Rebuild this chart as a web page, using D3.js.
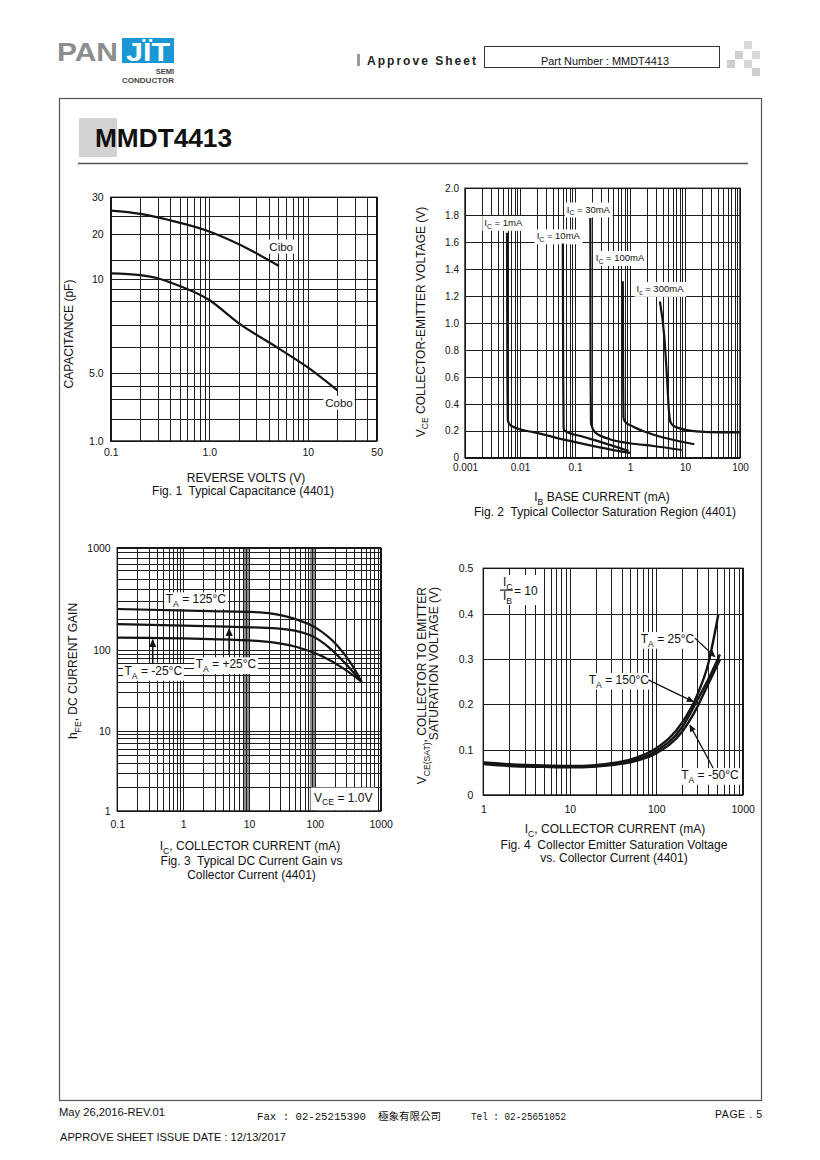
<!DOCTYPE html>
<html><head><meta charset="utf-8">
<script src="https://cdn.jsdelivr.net/npm/d3@7"></script>
<style>
body{margin:0;background:#fff}
svg{display:block}
text{font-family:"Liberation Sans",Arial,sans-serif;fill:#111;white-space:pre}
</style>
</head><body>
<svg id="page" width="820" height="1160"></svg>
<script>
// ---------------- Fig. 1 : Typical Capacitance ----------------
const fig1VoltTicks = [0.1, 1, 10, 50];
const fig1VoltLabels = ['0.1', '1.0', '10', '50'];
const fig1CapTicks = [1, 5, 10, 20, 30];
const fig1CapLabels = ['1.0', '5.0', '10', '20', '30'];
const fig1CapGrid = [30, 24.3, 20, 13.4, 10, 9.27, 8.47, 7.1, 6.03, 5, 3.68, 2.71, 1.67, 1];
const ciboVolts = [0.1, 0.2, 0.4, 1, 2, 5.1];
const ciboPF    = [25.9, 25, 23.3, 20.6, 17.1, 12.2];
const coboVolts = [0.1, 0.2, 0.3, 0.4, 1, 2, 5, 10, 20];
const coboPF    = [10.9, 10.6, 10.1, 9.75, 8.56, 7.2, 6.0, 5.2, 3.3];

// ---------------- Fig. 2 : Collector Saturation Region ----------------
const fig2IbTicks = [0.001, 0.01, 0.1, 1, 10, 100];
const fig2IbLabels = ['0.001', '0.01', '0.1', '1', '10', '100'];
const fig2VceTicks = [0, 0.2, 0.4, 0.6, 0.8, 1.0, 1.2, 1.4, 1.6, 1.8, 2.0];
const fig2VceLabels = ['0', '0.2', '0.4', '0.6', '0.8', '1.0', '1.2', '1.4', '1.6', '1.8', '2.0'];
const ib1mA   = [0.0058, 0.0059, 0.006, 0.0064, 0.0075, 0.01, 0.0175, 0.07, 0.28, 1.0];
const vce1mA  = [1.67, 0.6, 0.28, 0.25, 0.23, 0.21, 0.19, 0.13, 0.077, 0.035];
const ib10mA  = [0.06, 0.061, 0.062, 0.065, 0.14, 0.28, 0.94];
const vce10mA = [1.59, 0.6, 0.22, 0.2, 0.156, 0.119, 0.05];
const ib30mA  = [0.19, 0.192, 0.195, 0.2, 0.23, 0.43, 1, 2.65, 8.7];
const vce30mA = [1.78, 0.6, 0.26, 0.24, 0.19, 0.137, 0.107, 0.087, 0.057];
const ib100mA  = [0.74, 0.75, 0.76, 0.8, 1.15, 2.3, 4.6, 14.8];
const vce100mA = [1.31, 0.6, 0.3, 0.27, 0.23, 0.18, 0.144, 0.10];
const ib300mA  = [3.5, 4.2, 4.7, 5.1, 5.4, 6, 8, 18.7, 40, 100];
const vce300mA = [1.16, 0.9, 0.6, 0.35, 0.27, 0.24, 0.218, 0.193, 0.188, 0.188];

// ---------------- Fig. 3 : DC Current Gain ----------------
const fig3IcTicks = [0.1, 1, 10, 100, 1000];
const fig3IcLabels = ['0.1', '1', '10', '100', '1000'];
const fig3HfeTicks = [1, 10, 100, 1000];
const fig3HfeLabels = ['1', '10', '100', '1000'];
const fig3Bands = [[8.2, 10.1], [84, 104]];
const ic125  = [0.1, 2.56, 14.7, 47, 107, 215, 342, 514];
const hfe125 = [253, 241, 235, 205, 164, 113, 72, 40.6];
const ic25   = [0.1, 4.6, 26.3, 84, 170, 305, 514];
const hfe25  = [180, 170, 164, 141, 104.6, 65.7, 40.6];
const icM25  = [0.1, 2.56, 14.7, 53, 134, 270, 514];
const hfeM25 = [133, 129, 123, 108, 83.2, 59.7, 40.6];

// ---------------- Fig. 4 : VCE(sat) vs IC ----------------
const fig4IcTicks = [1, 10, 100, 1000];
const fig4IcLabels = ['1', '10', '100', '1000'];
const fig4VTicks = [0, 0.1, 0.2, 0.3, 0.4, 0.5];
const fig4VLabels = ['0', '0.1', '0.2', '0.3', '0.4', '0.5'];
const satIc25   = [1, 2, 5, 10, 20, 30, 50, 100, 200, 300, 400, 521];
const satV25    = [0.072, 0.068, 0.065, 0.064, 0.066, 0.07, 0.078, 0.103, 0.16, 0.222, 0.29, 0.397];
const satIc150  = [1, 2, 5, 10, 20, 30, 50, 100, 200, 300, 400, 545];
const satV150   = [0.07, 0.066, 0.063, 0.062, 0.064, 0.067, 0.074, 0.097, 0.15, 0.21, 0.255, 0.31];
const satIcM50  = [1, 2, 5, 10, 20, 30, 50, 100, 200, 300, 400, 550];
const satVM50   = [0.068, 0.064, 0.062, 0.061, 0.063, 0.066, 0.072, 0.092, 0.14, 0.195, 0.245, 0.3];

// ======================================================================
const svg = d3.select('#page');
const INK = '#141414';
const defs = svg.append('defs');
function marker(id, w, h) {
  defs.append('marker').attr('id', id).attr('viewBox', '0 0 10 10')
    .attr('refX', 9).attr('refY', 5).attr('markerUnits', 'userSpaceOnUse')
    .attr('markerWidth', w).attr('markerHeight', h).attr('orient', 'auto')
    .append('path').attr('d', 'M0,0.5 L10,5 L0,9.5 z').attr('fill', INK);
}
marker('ah3', 9, 8);
marker('ah4', 8, 7);

function logMinor(lo, hi) {
  const out = [];
  for (let e = Math.floor(Math.log10(lo)); e <= Math.ceil(Math.log10(hi)); e++)
    for (let k = 1; k < 10; k++) {
      const v = +(k * Math.pow(10, e)).toPrecision(6);
      if (v >= lo * 0.999 && v <= hi * 1.001) out.push(v);
    }
  return out;
}
function pieceRange(top, bottom, fr) { return fr.map(f => bottom - f * (bottom - top)); }

function richText(parent, str, x, y, size, anchor, transform) {
  const t = parent.append('text').attr('x', x).attr('y', y).attr('font-size', size)
    .attr('text-anchor', anchor || 'start');
  if (transform) t.attr('transform', transform);
  const parts = str.split(/(_\{[^}]*\})/).filter(s => s.length);
  let sub = false;
  parts.forEach(p => {
    if (p.startsWith('_{')) {
      t.append('tspan').attr('font-size', size * 0.72).attr('dy', sub ? 0 : size * 0.3).text(p.slice(2, -1));
      sub = true;
    } else {
      const ts = t.append('tspan').text(p);
      if (sub) { ts.attr('dy', -size * 0.3); sub = false; }
    }
  });
  return t;
}
function boxed(parent, str, x, y, size, anchor, px, py) {
  const g = parent.append('g');
  const t = richText(g, str, x, y, size, anchor);
  const b = t.node().getBBox();
  g.insert('rect', 'text').attr('x', b.x - (px ?? 2)).attr('y', b.y - (py ?? 0))
    .attr('width', b.width + 2 * (px ?? 2)).attr('height', b.height + 2 * (py ?? 0)).attr('fill', '#fff');
  return g;
}

function gridAxes(g, x, y, xGrid, yGrid, xTicks, xLabels, yTicks, yLabels, o) {
  const [xl, xr] = d3.extent(x.range());
  const [yt, yb] = d3.extent(y.range());
  const fmt = (ticks, labels) => d => {
    const i = ticks.findIndex(t => Math.abs(t - d) < 1e-6 * Math.max(1, Math.abs(t)));
    return i >= 0 ? labels[i] : '';
  };
  const ax = g.append('g').attr('transform', `translate(0,${yb})`)
    .call(d3.axisBottom(x).tickValues(xGrid).tickSize(-(yb - yt)).tickPadding(o.xPad).tickFormat(fmt(xTicks, xLabels)));
  const ay = g.append('g').attr('transform', `translate(${xl},0)`)
    .call(d3.axisLeft(y).tickValues(yGrid).tickSize(-(xr - xl)).tickPadding(o.yPad).tickFormat(fmt(yTicks, yLabels)));
  [ax, ay].forEach(a => {
    a.attr('font-size', null).attr('font-family', null);
    a.select('.domain').remove();
    a.selectAll('line').attr('stroke', '#1e1e1e').attr('stroke-width', 1).attr('shape-rendering', 'crispEdges');
    a.selectAll('text').attr('font-size', o.fs).attr('fill', '#111');
  });
  g.append('rect').attr('x', xl).attr('y', yt).attr('width', xr - xl).attr('height', yb - yt)
    .attr('fill', 'none').attr('stroke', INK).attr('stroke-width', 1.4);
}
function curve(g, x, y, xs, ys, w) {
  g.append('path').datum(d3.zip(xs, ys)).attr('fill', 'none').attr('stroke', INK)
    .attr('stroke-width', w || 2.2).attr('stroke-linejoin', 'round')
    .attr('d', d3.line().x(d => x(d[0])).y(d => y(d[1])).curve(d3.curveMonotoneX));
}
function arrow(g, x, y, a, b, id, w) {
  g.append('line').attr('x1', x(a[0])).attr('y1', y(a[1])).attr('x2', x(b[0])).attr('y2', y(b[1]))
    .attr('stroke', INK).attr('stroke-width', w || 1.4).attr('marker-end', `url(#${id})`);
}

// ---------------- Page frame & header ----------------
svg.append('rect').attr('x', 59.5).attr('y', 98.5).attr('width', 702).attr('height', 1002)
  .attr('fill', 'none').attr('stroke', '#555').attr('stroke-width', 1.2);

svg.append('text').attr('x', 57).attr('y', 61).attr('font-size', 25).attr('font-weight', 'bold')
  .attr('fill', '#8d8d8d').style('fill', '#8d8d8d').attr('textLength', 61).attr('lengthAdjust', 'spacingAndGlyphs').text('PAN');
svg.append('rect').attr('x', 122).attr('y', 38).attr('width', 52).attr('height', 25).attr('fill', '#1b96d4');
svg.append('text').attr('x', 126).attr('y', 61).attr('font-size', 25).attr('font-weight', 'bold')
  .style('fill', '#fff').attr('textLength', 44).attr('lengthAdjust', 'spacingAndGlyphs').text('JÏT');
svg.append('text').attr('x', 174).attr('y', 73.5).attr('font-size', 7.5).attr('font-weight', 'bold')
  .attr('text-anchor', 'end').style('fill', '#444').text('SEMI');
svg.append('text').attr('x', 122).attr('y', 83).attr('font-size', 7.5).attr('font-weight', 'bold')
  .style('fill', '#444').attr('textLength', 52).attr('lengthAdjust', 'spacingAndGlyphs').text('CONDUCTOR');

svg.append('rect').attr('x', 357).attr('y', 54).attr('width', 3).attr('height', 12).attr('fill', '#999');
svg.append('text').attr('x', 367).attr('y', 64.5).attr('font-size', 12).attr('font-weight', 'bold')
  .attr('textLength', 109).attr('lengthAdjust', 'spacing').style('fill', '#222').text('Approve Sheet');
svg.append('rect').attr('x', 484.5).attr('y', 46.5).attr('width', 235).attr('height', 21)
  .attr('fill', 'none').attr('stroke', '#333').attr('stroke-width', 1);
svg.append('text').attr('x', 605).attr('y', 65).attr('font-size', 10.5).attr('text-anchor', 'middle')
  .attr('textLength', 128).attr('lengthAdjust', 'spacingAndGlyphs').text('Part Number : MMDT4413');
const chk = [[744, 41], [735, 51], [752, 51], [727, 60], [744, 60], [752, 68]];
svg.selectAll('.chk').data(chk).join('rect').attr('x', d => d[0]).attr('y', d => d[1])
  .attr('width', 8).attr('height', 8).attr('fill', (d, i) => i % 2 ? '#cfcfcf' : '#d9d9d9');

svg.append('rect').attr('x', 79).attr('y', 118).attr('width', 38).attr('height', 39).attr('fill', '#d2d2d2');
svg.append('text').attr('x', 95).attr('y', 147).attr('font-size', 26).attr('font-weight', 'bold')
  .attr('textLength', 137).attr('lengthAdjust', 'spacingAndGlyphs').text('MMDT4413');
svg.append('line').attr('x1', 78).attr('x2', 748).attr('y1', 163.5).attr('y2', 163.5)
  .attr('stroke', '#555').attr('stroke-width', 1.3);

// ---------------- Fig. 1 ----------------
{
  const g = svg.append('g');
  const x = d3.scaleLog().domain([0.1, 50]).range([110.7, 376.7]);
  const y = d3.scaleLog().domain(fig1CapTicks).range(pieceRange(197.3, 441, [0, 0.28, 0.665, 0.849, 1]));
  gridAxes(g, x, y, logMinor(0.1, 50), fig1CapGrid, fig1VoltTicks, fig1VoltLabels, fig1CapTicks, fig1CapLabels,
    { xPad: 7.5, yPad: 7, fs: 10.5 });
  boxed(g, 'Cibo', x(5.37), y(15.5), 11.5, 'middle', 2, 1);
  boxed(g, 'Cobo', x(20.7), y(2.24), 11.5, 'middle', 2, 1);
  curve(g, x, y, ciboVolts, ciboPF);
  curve(g, x, y, coboVolts, coboPF);
  richText(g, 'REVERSE VOLTS (V)', 246, 482, 12, 'middle');
  richText(g, 'Fig. 1  Typical Capacitance (4401)', 243, 495, 12, 'middle');
  richText(g, 'CAPACITANCE (pF)', 0, 0, 12, 'middle', 'translate(72.5,334) rotate(-90)');
}

// ---------------- Fig. 2 ----------------
{
  const g = svg.append('g');
  const x = d3.scaleLog().domain([0.001, 100]).range([465, 740]);
  const y = d3.scaleLinear().domain([0, 2]).range([457.7, 188.3]);
  gridAxes(g, x, y, logMinor(0.001, 100), fig2VceTicks, fig2IbTicks, fig2IbLabels, fig2VceTicks, fig2VceLabels,
    { xPad: 6.2, yPad: 6, fs: 10 });
  boxed(g, 'I_{C} = 1mA', x(0.00497), y(1.72), 9.5, 'middle', 2, 1);
  boxed(g, 'I_{C} = 30mA', x(0.175), y(1.82), 9.5, 'middle', 2, 1);
  boxed(g, 'I_{C} = 10mA', x(0.0497), y(1.62), 9.5, 'middle', 2, 1);
  boxed(g, 'I_{C} = 100mA', x(0.658), y(1.46), 9.5, 'middle', 2, 1);
  boxed(g, 'I_{c} = 300mA', x(3.51), y(1.23), 9.5, 'middle', 2, 1);
  curve(g, x, y, ib1mA, vce1mA);
  curve(g, x, y, ib10mA, vce10mA);
  curve(g, x, y, ib30mA, vce30mA);
  curve(g, x, y, ib100mA, vce100mA);
  curve(g, x, y, ib300mA, vce300mA);
  richText(g, 'I_{B} BASE CURRENT (mA)', 602, 501, 12, 'middle');
  richText(g, 'Fig. 2  Typical Collector Saturation Region (4401)', 605, 516, 12, 'middle');
  richText(g, 'V_{CE} COLLECTOR-EMITTER VOLTAGE (V)', 0, 0, 12, 'middle', 'translate(424.5,322) rotate(-90)');
}

// ---------------- Fig. 3 ----------------
{
  const g = svg.append('g');
  const x = d3.scaleLog().domain([0.1, 1000]).range([117.3, 380.7]);
  const y = d3.scaleLog().domain(fig3HfeTicks).range(pieceRange(547.7, 811, [0, 0.305, 0.61, 1]));
  g.selectAll('.band').data(fig3Bands).join('rect').attr('x', d => x(d[0])).attr('width', d => x(d[1]) - x(d[0]))
    .attr('y', 547.7).attr('height', 811 - 547.7).attr('fill', '#8e8e8e');
  gridAxes(g, x, y, logMinor(0.1, 1000), logMinor(1, 1000), fig3IcTicks, fig3IcLabels, fig3HfeTicks, fig3HfeLabels,
    { xPad: 9.5, yPad: 6.6, fs: 10.5 });
  boxed(g, 'T_{A} = 125°C', x(1.56), y(287), 12, 'middle', 1.5, 0);
  boxed(g, 'T_{A} = -25°C', x(0.352), y(49.3), 12, 'middle', 1.5, 0);
  boxed(g, 'T_{A} = +25°C', x(4.47), y(59.7), 12, 'middle', 1.5, 0);
  boxed(g, 'V_{CE} = 1.0V', x(270), y(1.31), 12, 'middle', 3, 3);
  curve(g, x, y, ic125, hfe125);
  curve(g, x, y, ic25, hfe25);
  curve(g, x, y, icM25, hfeM25);
  arrow(g, x, y, [0.345, 69.5], [0.345, 127], 'ah3', 1.6);
  arrow(g, x, y, [5, 87.5], [5, 162], 'ah3', 1.6);
  richText(g, 'I_{C}, COLLECTOR CURRENT (mA)', 250, 850, 12, 'middle');
  richText(g, 'Fig. 3  Typical DC Current Gain vs', 251.5, 865, 12, 'middle');
  richText(g, 'Collector Current (4401)', 251.5, 879, 12, 'middle');
  richText(g, 'h_{FE}, DC CURRENT GAIN', 0, 0, 12, 'middle', 'translate(77,671) rotate(-90)');
}

// ---------------- Fig. 4 ----------------
{
  const g = svg.append('g');
  const x = d3.scaleLog().domain([1, 1000]).range([483.3, 742.7]);
  const y = d3.scaleLinear().domain([0, 0.5]).range([795, 568.3]);
  gridAxes(g, x, y, logMinor(1, 1000), fig4VTicks, fig4IcTicks, fig4IcLabels, fig4VTicks, fig4VLabels,
    { xPad: 11, yPad: 10, fs: 10.5 });
  // IC / IB = 10 annotation
  const ax = x(1.56), ay = y(0.452);
  g.append('rect').attr('x', ax - 1).attr('y', ay - 15).attr('width', 38).attr('height', 30).attr('fill', '#fff');
  richText(g, 'I_{C}', ax + 3, ay - 4, 12, 'start');
  g.append('line').attr('x1', ax).attr('x2', ax + 13).attr('y1', ay).attr('y2', ay).attr('stroke', INK).attr('stroke-width', 1.2);
  richText(g, 'I_{B}', ax + 3, ay + 10, 12, 'start');
  richText(g, '= 10', ax + 14, ay + 5, 12, 'start');
  boxed(g, 'T_{A} = 25°C', x(135), y(0.335), 12, 'middle', 1.5, 0);
  boxed(g, 'T_{A} = 150°C', x(37), y(0.245), 12, 'middle', 1.5, 0);
  boxed(g, 'T_{A} = -50°C', x(418), y(0.035), 12, 'middle', 1.5, 0);
  curve(g, x, y, satIc25, satV25, 2.4);
  curve(g, x, y, satIc150, satV150, 2.4);
  curve(g, x, y, satIcM50, satVM50, 2.4);
  arrow(g, x, y, [280, 0.346], [477, 0.305], 'ah4', 1.3);
  arrow(g, x, y, [80.9, 0.254], [268, 0.206], 'ah4', 1.3);
  arrow(g, x, y, [456, 0.059], [245, 0.154], 'ah4', 1.3);
  richText(g, 'I_{C}, COLLECTOR CURRENT (mA)', 615, 833, 12, 'middle');
  richText(g, 'Fig. 4  Collector Emitter Saturation Voltage', 614, 849, 12, 'middle');
  richText(g, 'vs. Collector Current (4401)', 614, 862, 12, 'middle');
  richText(g, 'V_{CE(SAT)}, COLLECTOR TO EMITTER', 0, 0, 12, 'end', 'translate(426,587) rotate(-90)');
  richText(g, 'SATURATION VOLTAGE (V)', 0, 0, 12, 'end', 'translate(437.5,587) rotate(-90)');
}

// ---------------- Footer ----------------
svg.append('text').attr('x', 59).attr('y', 1116).attr('font-size', 10.5)
  .attr('textLength', 106).attr('lengthAdjust', 'spacingAndGlyphs').text('May 26,2016-REV.01');
svg.append('text').attr('x', 257).attr('y', 1120).attr('font-size', 10.5).style('font-family', '"Liberation Mono", monospace')
  .attr('textLength', 109).attr('lengthAdjust', 'spacingAndGlyphs').text('Fax : 02-25215390');
svg.append('text').attr('x', 378).attr('y', 1120).attr('font-size', 10).style('font-family', '"Noto Sans CJK TC", sans-serif')
  .attr('textLength', 63).attr('lengthAdjust', 'spacingAndGlyphs').text('極象有限公司');
svg.append('text').attr('x', 471).attr('y', 1120).attr('font-size', 10.5).style('font-family', '"Liberation Mono", monospace')
  .attr('textLength', 95).attr('lengthAdjust', 'spacingAndGlyphs').text('Tel : 02-25651052');
svg.append('text').attr('x', 715).attr('y', 1118).attr('font-size', 10.5)
  .attr('textLength', 47).attr('lengthAdjust', 'spacing').text('PAGE . 5');
svg.append('text').attr('x', 60).attr('y', 1141).attr('font-size', 10.5)
  .attr('textLength', 226).attr('lengthAdjust', 'spacingAndGlyphs').text('APPROVE SHEET ISSUE DATE : 12/13/2017');
</script>
</body></html>
